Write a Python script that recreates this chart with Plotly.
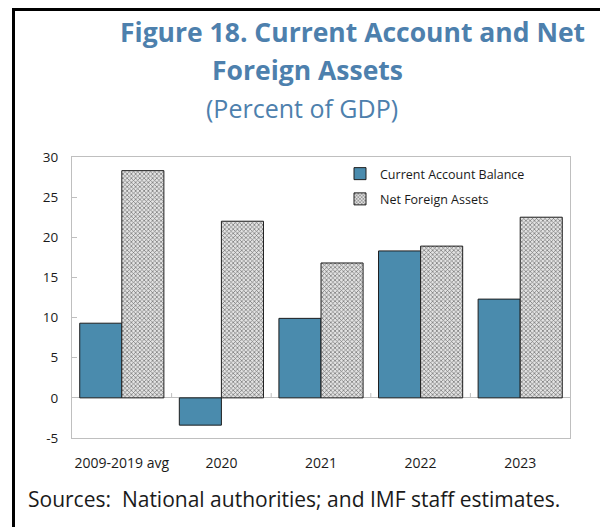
import plotly.graph_objects as go

# Data (percent of GDP)
categories = ["2009-2019 avg", "2020", "2021", "2022", "2023"]
current_account = [9.3, -3.4, 9.9, 18.3, 12.3]
net_foreign_assets = [28.3, 22.0, 16.8, 18.9, 22.5]
y_ticks = [-5, 0, 5, 10, 15, 20, 25, 30]

W, H = 600, 527
L, R, T, B = 72, 30, 157, 89
plot_w = W - L - R
plot_h = H - T - B


def px_x(px):
    return (px - L) / plot_w


def px_y(py):
    return (H - B - py) / plot_h


FONT = "Open Sans"
BLUE_TITLE = "#4d80ad"
CA_COLOR = "#4a8bad"
GRID_GRAY = "#bfbfbf"

fig = go.Figure()
fig.add_trace(go.Bar(
    x=categories, y=current_account, name="Current Account Balance",
    legendgroup="ca",
    marker=dict(color=CA_COLOR, line=dict(color="#1e1e1e", width=1)),
))
fig.add_trace(go.Bar(
    x=categories, y=net_foreign_assets, name="Net Foreign Assets",
    legendgroup="nfa",
    marker=dict(
        color="#d9d9d9",
        line=dict(color="#1e1e1e", width=1),
        pattern=dict(shape="x", size=3, solidity=0.4,
                     fgcolor="#707070", bgcolor="#e3e3e3", fillmode="replace"),
    ),
))

shapes = []
# small category-boundary ticks standing on the zero line
for i in range(len(categories) - 1):
    shapes.append(dict(type="line", xref="x", yref="y",
                       x0=i + 0.5, x1=i + 0.5, y0=0, y1=0.6,
                       line=dict(color=GRID_GRAY, width=1)))
# outer black frame (top and left edges)
shapes.append(dict(type="line", xref="paper", yref="paper",
                   x0=px_x(13), x1=px_x(600), y0=px_y(9.5), y1=px_y(9.5),
                   line=dict(color="black", width=3)))
shapes.append(dict(type="line", xref="paper", yref="paper",
                   x0=px_x(13.5), x1=px_x(13.5), y0=px_y(8), y1=px_y(527),
                   line=dict(color="black", width=3)))

annotations = [
    dict(text="<b>Figure 18. Current Account and Net</b>", x=px_x(352), y=px_y(32),
         xref="paper", yref="paper", xanchor="center", yanchor="middle",
         showarrow=False, font=dict(family=FONT, size=26.5, color=BLUE_TITLE)),
    dict(text="<b>Foreign Assets</b>", x=px_x(307), y=px_y(70),
         xref="paper", yref="paper", xanchor="center", yanchor="middle",
         showarrow=False, font=dict(family=FONT, size=26.5, color=BLUE_TITLE)),
    dict(text="(Percent of GDP)", x=px_x(302), y=px_y(108),
         xref="paper", yref="paper", xanchor="center", yanchor="middle",
         showarrow=False, font=dict(family=FONT, size=25, color=BLUE_TITLE)),
    dict(text="Sources:  National authorities; and IMF staff estimates.",
         x=px_x(26), y=px_y(499), xref="paper", yref="paper",
         xanchor="left", yanchor="middle", showarrow=False,
         font=dict(family=FONT, size=21, color="#1a1a1a")),
]

fig.update_layout(
    width=W, height=H,
    margin=dict(l=L, r=R, t=T, b=B, pad=0),
    paper_bgcolor="white", plot_bgcolor="white",
    barmode="group", bargap=0.155, bargroupgap=0,
    font=dict(family=FONT, size=13, color="#1a1a1a"),
    showlegend=True,
    legend=dict(x=px_x(340), y=px_y(159), xanchor="left", yanchor="top",
                bgcolor="rgba(0,0,0,0)", borderwidth=0,
                font=dict(family=FONT, size=12.5, color="#1a1a1a"),
                traceorder="grouped", tracegroupgap=6),
    shapes=shapes,
    annotations=annotations,
)

fig.update_xaxes(
    showline=True, linecolor=GRID_GRAY, linewidth=1, mirror=True,
    ticks="", showgrid=False, ticklabelstandoff=12,
    tickfont=dict(family=FONT, size=14, color="#1a1a1a"),
)
fig.update_yaxes(
    range=[-5, 30], tickvals=y_ticks, ticktext=[str(v) for v in y_ticks],
    showline=True, linecolor=GRID_GRAY, linewidth=1, mirror=True,
    ticks="inside", ticklen=5, tickcolor=GRID_GRAY, showgrid=False,
    zeroline=True, zerolinecolor=GRID_GRAY, zerolinewidth=1,
    ticklabelstandoff=10,
    tickfont=dict(family=FONT, size=13.5, color="#1a1a1a"),
)

fig.write_html("out.html")
